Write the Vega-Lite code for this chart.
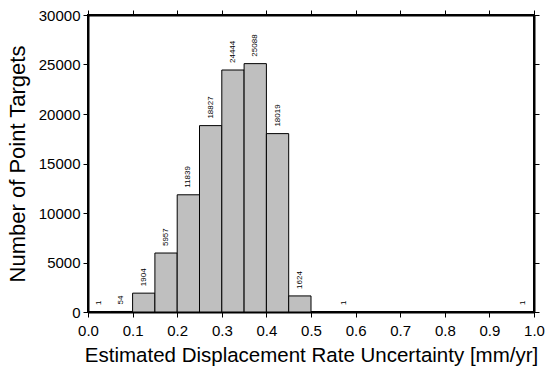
{
  "$schema": "https://vega.github.io/schema/vega-lite/v6.json",
  "width": 446,
  "height": 297,
  "autosize": {"type": "none"},
  "padding": {"left": 88, "top": 15, "right": 16, "bottom": 60},
  "config": {
    "font": "Liberation Sans",
    "view": {"stroke": "black", "strokeWidth": 2},
    "axis": {
      "domainColor": "black",
      "domainWidth": 2,
      "tickColor": "black",
      "tickWidth": 1,
      "tickSize": 5,
      "labelFont": "Liberation Sans",
      "labelFontSize": 15,
      "labelColor": "black",
      "labelFlush": false,
      "labelOverlap": false,
      "titleFont": "Liberation Sans",
      "titleFontWeight": "normal",
      "titleColor": "black",
      "grid": false
    }
  },
  "data": {
    "values": [
      {"x0": 0.00, "x1": 0.05, "center": 0.025, "count": 1},
      {"x0": 0.05, "x1": 0.10, "center": 0.075, "count": 54},
      {"x0": 0.10, "x1": 0.15, "center": 0.125, "count": 1904},
      {"x0": 0.15, "x1": 0.20, "center": 0.175, "count": 5957},
      {"x0": 0.20, "x1": 0.25, "center": 0.225, "count": 11839},
      {"x0": 0.25, "x1": 0.30, "center": 0.275, "count": 18827},
      {"x0": 0.30, "x1": 0.35, "center": 0.325, "count": 24444},
      {"x0": 0.35, "x1": 0.40, "center": 0.375, "count": 25088},
      {"x0": 0.40, "x1": 0.45, "center": 0.425, "count": 18019},
      {"x0": 0.45, "x1": 0.50, "center": 0.475, "count": 1624},
      {"x0": 0.55, "x1": 0.60, "center": 0.575, "count": 1},
      {"x0": 0.95, "x1": 1.00, "center": 0.975, "count": 1}
    ]
  },
  "resolve": {"axis": {"x": "independent", "y": "independent"}},
  "layer": [
    {
      "mark": {"type": "rect", "fill": "#bfbfbf", "stroke": "black", "strokeWidth": 1},
      "encoding": {
        "x": {
          "field": "x0", "type": "quantitative",
          "scale": {"domain": [0, 1], "nice": false, "zero": false},
          "axis": {"orient": "bottom", "values": [0, 0.1, 0.2, 0.3, 0.4, 0.5, 0.6, 0.7, 0.8, 0.9, 1.0], "format": ".1f", "title": "Estimated Displacement Rate Uncertainty [mm/yr]", "titleFontSize": 20.5, "labelPadding": 6, "titlePadding": 7}
        },
        "x2": {"field": "x1"},
        "y": {
          "field": "count", "type": "quantitative",
          "scale": {"domain": [0, 30000], "nice": false},
          "axis": {"orient": "left", "values": [0, 5000, 10000, 15000, 20000, 25000, 30000], "format": "d", "title": "Number of Point Targets", "titleFontSize": 22, "labelPadding": 3, "titlePadding": 9}
        },
        "y2": {"datum": 0}
      }
    },
    {
      "mark": {"type": "text", "angle": 270, "align": "left", "baseline": "middle", "dx": 7, "fontSize": 8, "font": "Liberation Sans", "fill": "black"},
      "encoding": {
        "x": {
          "field": "center", "type": "quantitative",
          "axis": {"orient": "top", "values": [0, 0.1, 0.2, 0.3, 0.4, 0.5, 0.6, 0.7, 0.8, 0.9, 1.0], "labels": false, "title": null}
        },
        "y": {
          "field": "count", "type": "quantitative",
          "axis": {"orient": "right", "values": [0, 5000, 10000, 15000, 20000, 25000, 30000], "labels": false, "title": null}
        },
        "text": {"field": "count", "type": "quantitative", "format": "d"}
      }
    }
  ]
}
